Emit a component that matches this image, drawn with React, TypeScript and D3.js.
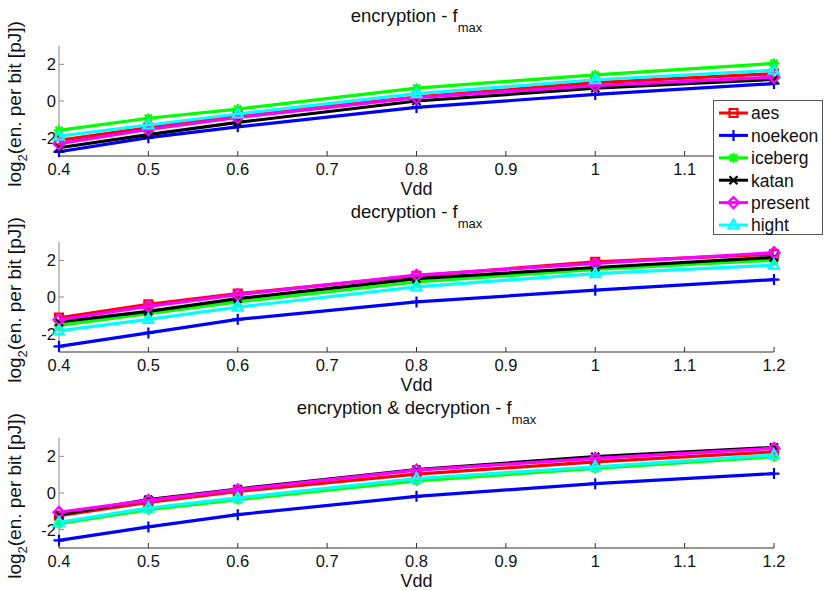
import React, { useRef, useEffect } from 'react';
import * as d3 from 'd3';

// supply voltage points
const vdd = [0.4, 0.5, 0.6, 0.8, 1.0, 1.2];

const ciphers = ['aes', 'noekeon', 'iceberg', 'katan', 'present', 'hight'];
const colors = ['#ff0000', '#0000ff', '#00ff00', '#000000', '#ff00ff', '#00ffff'];
const markerKinds = ['square', 'plus', 'star', 'cross', 'diamond', 'triangle'];

// log2(energy per bit) - encryption
const encAes = [-2.15, -1.45, -0.8, 0.22, 1.0, 1.49];
const encNoekeon = [-2.77, -2.0, -1.41, -0.35, 0.36, 0.95];
const encIceberg = [-1.6, -0.94, -0.44, 0.7, 1.43, 2.05];
const encKatan = [-2.55, -1.83, -1.17, 0.0, 0.7, 1.18];
const encPresent = [-2.33, -1.55, -0.9, 0.18, 0.84, 1.3];
const encHight = [-1.92, -1.31, -0.71, 0.4, 1.16, 1.68];

// decryption
const decAes = [-1.13, -0.4, 0.18, 1.15, 1.92, 2.34];
const decNoekeon = [-2.69, -1.96, -1.22, -0.27, 0.37, 0.95];
const decIceberg = [-1.55, -0.91, -0.27, 0.82, 1.5, 2.01];
const decKatan = [-1.36, -0.78, -0.09, 1.0, 1.61, 2.16];
const decPresent = [-1.24, -0.51, 0.13, 1.19, 1.83, 2.42];
const decHight = [-1.85, -1.22, -0.55, 0.55, 1.28, 1.74];

// encryption & decryption
const bothAes = [-1.24, -0.51, 0.09, 1.03, 1.7, 2.25];
const bothNoekeon = [-2.58, -1.85, -1.18, -0.18, 0.51, 1.06];
const bothIceberg = [-1.67, -0.91, -0.36, 0.66, 1.34, 1.98];
const bothKatan = [-1.18, -0.36, 0.22, 1.28, 1.98, 2.49];
const bothPresent = [-1.05, -0.4, 0.18, 1.25, 1.89, 2.44];
const bothHight = [-1.6, -0.82, -0.27, 0.79, 1.43, 2.07];

const panelTitles = ['encryption - f', 'decryption - f', 'encryption & decryption - f'];
const panelSeries = [
  [encAes, encNoekeon, encIceberg, encKatan, encPresent, encHight],
  [decAes, decNoekeon, decIceberg, decKatan, decPresent, decHight],
  [bothAes, bothNoekeon, bothIceberg, bothKatan, bothPresent, bothHight],
];

const xTicks = [0.4, 0.5, 0.6, 0.7, 0.8, 0.9, 1.0, 1.1, 1.2];
const yTicks = [-2, 0, 2];

const FONT = '"Liberation Sans", Arial, sans-serif';

function markerPath(kind: string) {
  switch (kind) {
    case 'square':
      return 'M-4,-4H4V4H-4Z';
    case 'plus':
      return 'M-5.5,0H5.5M0,-5.5V5.5';
    case 'star':
      return 'M-5,0H5M0,-5V5M-3.6,-3.6L3.6,3.6M-3.6,3.6L3.6,-3.6';
    case 'cross':
      return 'M-4,-4L4,4M-4,4L4,-4';
    case 'diamond':
      return 'M0,-5.5L5.5,0L0,5.5L-5.5,0Z';
    default:
      return 'M0,-5.5L5,3.5L-5,3.5Z';
  }
}

export default function App() {
  const svgRef = useRef<SVGSVGElement>(null);
  const width = 824;
  const height = 590;

  useEffect(() => {
    const svg = d3.select(svgRef.current);
    svg.selectAll('*').remove();
    svg.append('rect').attr('width', width).attr('height', height).attr('fill', '#fff');

    const x = d3.scaleLinear().domain([0.4, 1.2]).range([59, 774]);
    const tops = [46, 242, 438];
    const ph = 110;

    panelSeries.forEach((series, p) => {
      const top = tops[p];
      const y = d3.scaleLinear().domain([-3, 3]).range([top + ph, top]);
      const g = svg.append('g');

      // axes lines
      g.append('line')
        .attr('x1', x(0.4)).attr('x2', x(1.2))
        .attr('y1', top + ph).attr('y2', top + ph)
        .attr('stroke', '#333').attr('stroke-width', 1);
      g.append('line')
        .attr('x1', x(0.4)).attr('x2', x(0.4))
        .attr('y1', top).attr('y2', top + ph)
        .attr('stroke', '#888').attr('stroke-width', 1);

      // x ticks (the top panel's 1.2 label sits under the legend)
      xTicks.forEach(t => {
        g.append('line')
          .attr('x1', x(t)).attr('x2', x(t))
          .attr('y1', top + ph).attr('y2', top + ph - 5)
          .attr('stroke', '#333');
        if (p === 0 && t === 1.2) return;
        g.append('text')
          .attr('x', x(t)).attr('y', top + ph + 19)
          .attr('text-anchor', 'middle')
          .style('font-family', FONT).style('font-size', '16.5px').attr('fill', '#111')
          .text(d3.format('~g')(t));
      });

      // y ticks
      yTicks.forEach(t => {
        g.append('line')
          .attr('x1', x(0.4)).attr('x2', x(0.4) + 5)
          .attr('y1', y(t)).attr('y2', y(t))
          .attr('stroke', '#888');
        g.append('text')
          .attr('x', x(0.4) - 3).attr('y', y(t)).attr('dy', '0.36em')
          .attr('text-anchor', 'end')
          .style('font-family', FONT).style('font-size', '16.5px').attr('fill', '#111')
          .text(t);
      });

      // labels
      g.append('text')
        .attr('x', (x(0.4) + x(1.2)) / 2).attr('y', top + ph + 39)
        .attr('text-anchor', 'middle')
        .style('font-family', FONT).style('font-size', '18px').attr('fill', '#111')
        .text('Vdd');

      const yl = g.append('text')
        .attr('transform', `translate(21,${top + ph / 2 + 3}) rotate(-90)`)
        .attr('text-anchor', 'middle')
        .style('font-family', FONT).style('font-size', '19px').attr('fill', '#111');
      yl.append('tspan').text('log');
      yl.append('tspan').attr('dy', 6).style('font-size', '13px').text('2');
      yl.append('tspan').attr('dy', -6).text('(en. per bit [pJ])');

      const title = g.append('text')
        .attr('x', (x(0.4) + x(1.2)) / 2).attr('y', top - 24)
        .attr('text-anchor', 'middle')
        .style('font-family', FONT).style('font-size', '18.5px').attr('fill', '#111');
      title.append('tspan').text(panelTitles[p]);
      title.append('tspan').attr('dy', 10).style('font-size', '13px').text('max');

      // series
      const line = d3.line<number>().x((_, i) => x(vdd[i])).y(d => y(d));
      series.forEach((vals, s) => {
        g.append('path')
          .attr('d', line(vals))
          .attr('fill', 'none')
          .attr('stroke', colors[s])
          .attr('stroke-width', 3.2)
          .attr('stroke-linejoin', 'round');
        g.selectAll(null)
          .data(vals)
          .enter()
          .append('path')
          .attr('transform', (d, i) => `translate(${x(vdd[i])},${y(d)})`)
          .attr('d', markerPath(markerKinds[s]))
          .attr('fill', 'none')
          .attr('stroke', colors[s])
          .attr('stroke-width', 2.2);
      });
    });

    // legend
    const lg = svg.append('g');
    lg.append('rect')
      .attr('x', 713.5).attr('y', 100.5).attr('width', 109).attr('height', 134)
      .attr('fill', '#fff').attr('stroke', '#555');
    ciphers.forEach((name, i) => {
      const cy = 113 + i * 22.4;
      lg.append('line')
        .attr('x1', 719).attr('x2', 748).attr('y1', cy).attr('y2', cy)
        .attr('stroke', colors[i]).attr('stroke-width', 3);
      lg.append('path')
        .attr('transform', `translate(733.5,${cy})`)
        .attr('d', markerPath(markerKinds[i]))
        .attr('fill', 'none').attr('stroke', colors[i]).attr('stroke-width', 2.2);
      lg.append('text')
        .attr('x', 751).attr('y', cy).attr('dy', '0.36em')
        .style('font-family', FONT).style('font-size', '17.5px').attr('fill', '#111')
        .text(name);
    });
  }, []);

  return (
    <div style={{ position: 'fixed', left: 0, top: 0 }}>
      <svg ref={svgRef} width={width} height={height} style={{ display: 'block' }} />
    </div>
  );
}
